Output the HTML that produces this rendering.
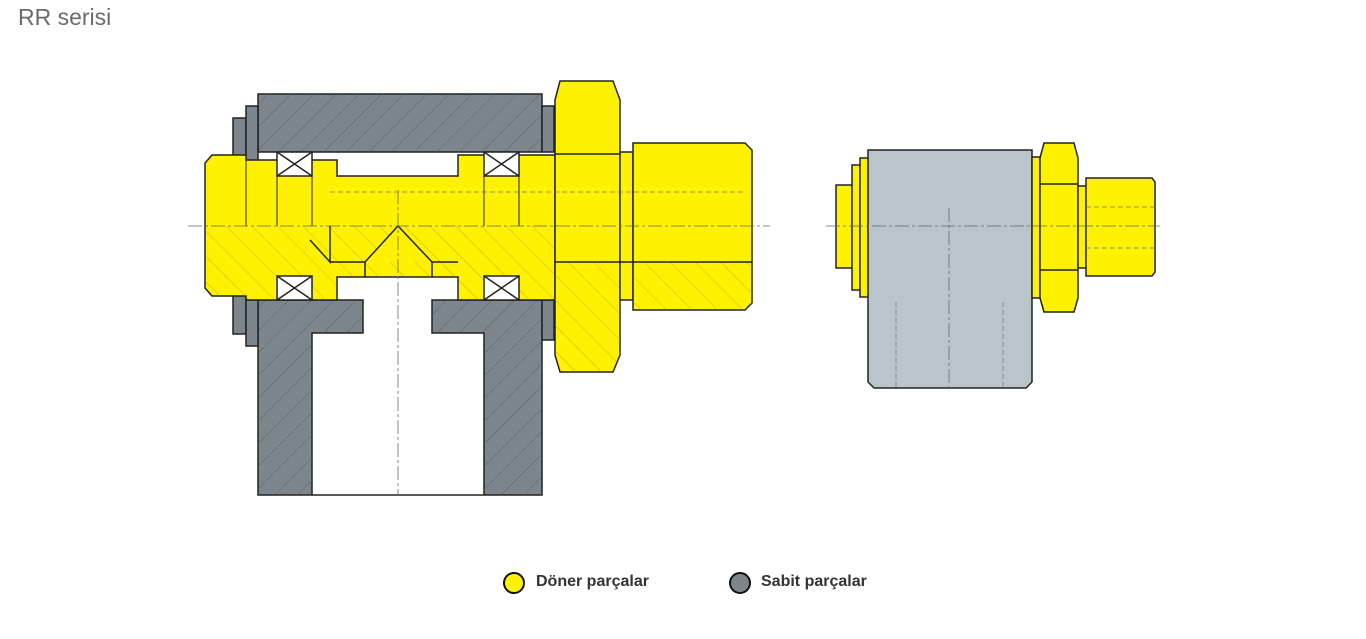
<!DOCTYPE html>
<html><head><meta charset="utf-8"><style>
body{margin:0;background:#fff;width:1366px;height:639px;overflow:hidden;font-family:"Liberation Sans",sans-serif}
.t{position:absolute;left:18px;top:4px;font-size:23px;color:#6b6b6b}
.lg{position:absolute;top:573px;font-size:16px;font-weight:bold;color:#333}
.dot{position:absolute;top:572px;width:18px;height:18px;border:2px solid #111;border-radius:50%}
</style></head><body>
<div class="t">RR serisi</div>
<svg width="1366" height="639" style="position:absolute;left:0;top:0">
<defs>
<pattern id="h" width="16" height="16" patternUnits="userSpaceOnUse" patternTransform="rotate(45)"><line x1="0" y1="0" x2="0" y2="16" stroke="#4e565c" stroke-width="0.8"/></pattern>
<pattern id="hy" width="18" height="18" patternUnits="userSpaceOnUse" patternTransform="rotate(-45)"><line x1="0" y1="0" x2="0" y2="18" stroke="#9a8f00" stroke-width="0.6"/></pattern>
</defs>
<g stroke="#222" stroke-width="1.5">
<rect x="258" y="94" width="284" height="58" fill="#7d868d"/>
<rect x="258" y="94" width="284" height="58" fill="url(#h)" stroke="none"/>
<path d="M258 300H363V333H312V495H484V333H432V300H542V495H258Z" fill="#7d868d"/>
<path d="M258 300H363V333H312V495H484V333H432V300H542V495H258Z" fill="url(#h)" stroke="none"/>
<rect x="233" y="118" width="13" height="45" fill="#7d868d"/>
<rect x="246" y="106" width="12" height="56" fill="#7d868d"/>
<rect x="542" y="106" width="12" height="46" fill="#7d868d"/>
<rect x="233" y="288" width="13" height="46" fill="#7d868d"/>
<rect x="246" y="300" width="12" height="46" fill="#7d868d"/>
<rect x="542" y="300" width="12" height="40" fill="#7d868d"/>
<path d="M212 155H246V160H337V176H458V155H555V300H458V277H337V300H246V296H212L205 288V163Z" fill="#fff200"/>
<path d="M205 226H555V300H458V277H337V300H246V296H212L205 288Z" fill="url(#hy)" stroke="none"/>
<path d="M560 81H613L620 100V355L613 372H560L555 355V100Z" fill="#fff200"/>
<path d="M555 262H620V355L613 372H560L555 355Z" fill="url(#hy)" stroke="none"/>
<line x1="555" y1="154" x2="620" y2="154"/>
<rect x="620" y="152" width="13" height="148" fill="#fff200"/>
<path d="M633 143H745L752 150V303L745 310H633Z" fill="#fff200"/>
<path d="M633 262H752V303L745 310H633Z" fill="url(#hy)" stroke="none"/>
<line x1="555" y1="262" x2="752" y2="262"/>
<path d="M330 262H365L398 226L432 262H458" fill="#fff200"/>
<line x1="365" y1="262" x2="365" y2="277"/><line x1="432" y1="262" x2="432" y2="277"/>
<path d="M310 240L330 262V226" fill="none"/>
<g fill="#fff">
<rect x="277" y="152" width="35" height="24"/><path d="M277 152L312 176M312 152L277 176"/>
<rect x="484" y="152" width="35" height="24"/><path d="M484 152L519 176M519 152L484 176"/>
<rect x="277" y="276" width="35" height="24"/><path d="M277 276L312 300M312 276L277 300"/>
<rect x="484" y="276" width="35" height="24"/><path d="M484 276L519 300M519 276L484 300"/>
</g>
<g stroke-width="1"><line x1="246" y1="160" x2="246" y2="226"/><line x1="277" y1="176" x2="277" y2="226"/><line x1="312" y1="176" x2="312" y2="226"/><line x1="484" y1="176" x2="484" y2="226"/><line x1="519" y1="176" x2="519" y2="226"/><line x1="555" y1="154" x2="555" y2="226"/></g>
<rect x="836" y="185" width="16" height="83" fill="#fff200"/>
<rect x="852" y="165" width="8" height="125" fill="#fff200"/>
<rect x="860" y="158" width="8" height="139" fill="#fff200"/>
<path d="M868 150H1032V382L1026 388H874L868 382Z" fill="#bac4cb"/>
<rect x="1032" y="157" width="8" height="141" fill="#fff200"/>
<path d="M1044 143H1074L1078 158V298L1074 312H1044L1040 298V158Z" fill="#fff200"/>
<line x1="1040" y1="184" x2="1078" y2="184"/><line x1="1040" y1="270" x2="1078" y2="270"/>
<rect x="1078" y="186" width="8" height="82" fill="#fff200"/>
<path d="M1086 178H1152L1155 182V272L1152 276H1086Z" fill="#fff200"/>
</g>
<g stroke="#666" stroke-width="0.8" stroke-dasharray="14 3 3 3" fill="none">
<line x1="188" y1="226" x2="770" y2="226"/><line x1="826" y1="226" x2="1160" y2="226"/>
<line x1="398" y1="190" x2="398" y2="495"/><line x1="949" y1="208" x2="949" y2="388"/>
</g>
<g stroke="#777" stroke-width="0.7" stroke-dasharray="5 3" fill="none">
<line x1="896" y1="302" x2="896" y2="388"/><line x1="1003" y1="302" x2="1003" y2="388"/>
<line x1="1086" y1="207" x2="1155" y2="207"/><line x1="1086" y1="248" x2="1155" y2="248"/>
<line x1="330" y1="192" x2="745" y2="192"/>
</g>
</svg>
<div class="dot" style="left:503px;background:#fff200"></div><div class="lg" style="left:536px">Döner parçalar</div>
<div class="dot" style="left:729px;background:#7d868d"></div><div class="lg" style="left:761px">Sabit parçalar</div>
</body></html>
